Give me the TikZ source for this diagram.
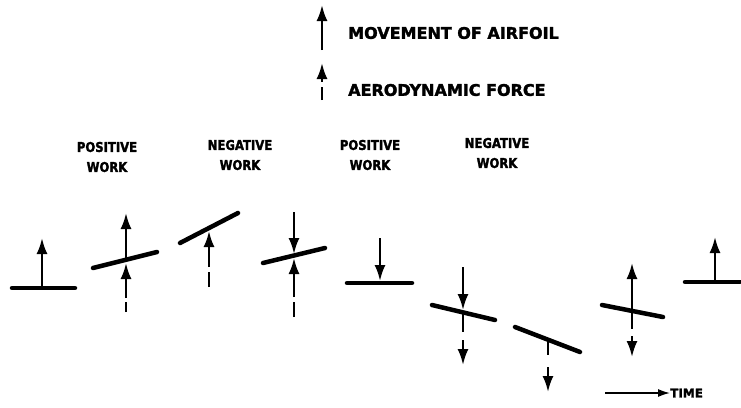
\documentclass[tikz,border=0pt]{standalone}
\usepackage{fontspec}
\setmainfont{DejaVu Sans}
\newfontfamily\heavyfont{DejaVu Sans Bold}[FakeBold=2]
\newfontfamily\heavynarrow{DejaVu Sans Bold}[FakeBold=2, FakeStretch=0.86]
\usetikzlibrary{arrows.meta}

\begin{document}
\begin{tikzpicture}[x=1pt, y=-1pt,
  foil/.style={line width=4.5pt, line cap=round},
  move/.style={-{Latex[length=16pt,width=11pt]}, line width=2.3pt},
  force/.style={move, dash pattern={#1}},
  legendtext/.style={font=\heavyfont\fontsize{16}{18}\selectfont,
                     anchor=west, inner sep=0pt},
  worklabel/.style={font=\heavynarrow\fontsize{13.5}{20}\selectfont,
                    align=center, inner sep=0pt}
]
\useasboundingbox (0,0) rectangle (741,407);

% legend
\coordinate (m0) at (322,50);  \coordinate (m1) at (322,5);
\coordinate (f0) at (322,100); \coordinate (f1) at (322,63);
\draw[move] (m0) -- (m1);
\draw[force={on 13pt off 5pt on 300pt off 0pt}] (f0) -- (f1);
\node[legendtext] (lmove)  at (348,33) {MOVEMENT OF AIRFOIL};
\node[legendtext] (lforce) at (348,90) {AERODYNAMIC FORCE};

% labels
\node[worklabel] (w1) at (107,157) {POSITIVE\\WORK};
\node[worklabel] (w2) at (240,155) {NEGATIVE\\WORK};
\node[worklabel] (w3) at (370,155) {POSITIVE\\WORK};
\node[worklabel] (w4) at (497,153) {NEGATIVE\\WORK};

% airfoil positions
\draw[foil] (12,288) -- (75,288);
\draw[move] (42,288) -- (42,238);

\draw[foil] (93,268) -- (157,252);
\draw[move] (126,260) -- (126,213);
\draw[force={on 10pt off 4pt on 300pt off 0pt}] (126,312) -- (126,263);

\draw[foil] (180,243) -- (238,213);
\draw[force={on 15pt off 5pt on 300pt off 0pt}] (209,287) -- (209,231);

\draw[foil] (263,263) -- (325,248);
\draw[move] (294,212) -- (294,254);
\draw[force={on 15pt off 5pt on 300pt off 0pt}] (294,317) -- (294,258);

\draw[foil] (347,283) -- (412,283);
\draw[move] (380,238) -- (380,281);

\draw[foil] (432,305) -- (495,320);
\draw[move] (463,267) -- (463,310);
\draw[force={on 20pt off 8pt on 300pt off 0pt}] (463,312) -- (463,365);

\draw[foil] (515,327) -- (580,352);
\draw[force={on 15pt off 12pt on 300pt off 0pt}] (548,340) -- (548,392);

\draw[foil] (602,305) -- (663,317);
\draw[move] (632,311) -- (632,263);
\draw[force={on 18pt off 7pt on 300pt off 0pt}] (632,311) -- (632,357);

\draw[foil] (685,282) -- (740,282);
\draw[move] (715,282) -- (715,237);

% time axis
\node[font=\heavyfont\fontsize{12}{14}\selectfont, anchor=west, inner sep=0pt]
  (time) at (670,393) {TIME};
\coordinate (t0) at (605,393);
\draw[-{Latex[length=12pt,width=8pt]}, line width=1.5pt] (t0) -- (time.west);
\end{tikzpicture}
\end{document}
